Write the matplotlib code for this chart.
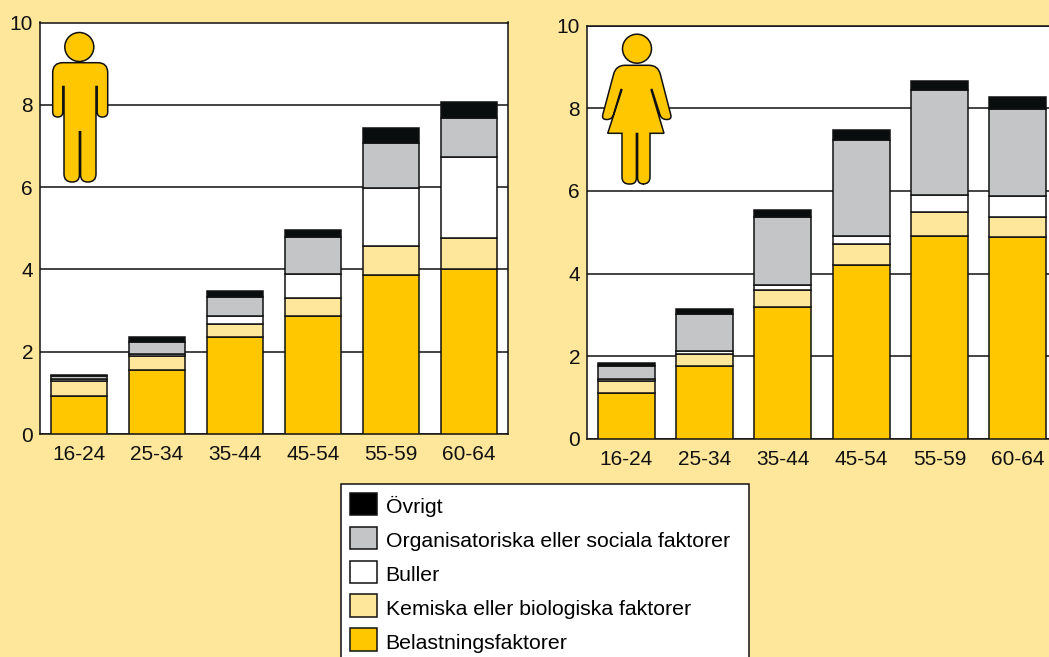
import matplotlib
matplotlib.use("Agg")
import matplotlib.pyplot as plt
import numpy as np
from matplotlib.patches import Circle, PathPatch, Patch
from matplotlib.path import Path

plt.rcParams["font.family"] = ["Liberation Sans", "DejaVu Sans"]

AGES = ["16-24", "25-34", "35-44", "45-54", "55-59", "60-64"]
LABELS = ["Belastningsfaktorer", "Kemiska eller biologiska faktorer", "Buller",
          "Organisatoriska eller sociala faktorer", "Övrigt"]

# cumulative tops, bottom segment first
MEN_BELASTNING = [0.93, 1.56, 2.36, 2.87, 3.86, 4.00]
MEN_KEMISKA = [1.29, 1.89, 2.68, 3.30, 4.56, 4.76]
MEN_BULLER = [1.33, 1.94, 2.86, 3.89, 5.97, 6.73]
MEN_ORG = [1.41, 2.23, 3.33, 4.78, 7.07, 7.69]
MEN_OVRIGT = [1.44, 2.36, 3.48, 4.95, 7.43, 8.08]

WOMEN_BELASTNING = [1.11, 1.76, 3.20, 4.22, 4.90, 4.89]
WOMEN_KEMISKA = [1.40, 2.05, 3.61, 4.72, 5.50, 5.36]
WOMEN_BULLER = [1.45, 2.13, 3.73, 4.90, 5.91, 5.87]
WOMEN_ORG = [1.77, 3.03, 5.37, 7.24, 8.45, 7.99]
WOMEN_OVRIGT = [1.84, 3.15, 5.54, 7.48, 8.65, 8.26]

BG = "#FEE79B"
COLORS = ["#FFC700", BG, "#FFFFFF", "#C4C5C7", "#0A0D0E"]
W, H = 1049, 657


def rounded(points):
    """Closed path through (x, y, corner radius) points."""
    verts, codes = [], []
    n = len(points)
    for i, (x, y, r) in enumerate(points):
        p = np.array([x, y], float)
        if r == 0:
            verts.append(p)
            codes.append(Path.LINETO)
            continue
        prev = np.array(points[i - 1][:2], float)
        nxt = np.array(points[(i + 1) % n][:2], float)
        a = p + (prev - p) / np.linalg.norm(prev - p) * r
        b = p + (nxt - p) / np.linalg.norm(nxt - p) * r
        verts += [a, p, b]
        codes += [Path.LINETO, Path.CURVE3, Path.CURVE3]
    codes[0] = Path.MOVETO
    verts.append(verts[0])
    codes.append(Path.CLOSEPOLY)
    return Path(verts, codes)


MAN = [(52.7, 62.7, 10), (107.7, 62.7, 10), (107.7, 117, 5), (97.2, 117, 5),
       (97.2, 86.5, 0), (96, 86.5, 0), (96, 182, 8), (80.6, 182, 7),
       (80.6, 131.7, 0), (79.4, 131.7, 0), (79.4, 182, 7), (64, 182, 8),
       (64, 86.5, 0), (62.8, 86.5, 0), (62.8, 117, 5), (52.7, 117, 5)]
WOMAN = [(616, 65.3, 9), (658, 65.3, 9), (672, 119.5, 5), (661.5, 119.5, 5),
         (652, 89.5, 0), (651, 89.5, 0), (664, 133.3, 0), (650, 133.3, 0),
         (650, 184, 7), (637.6, 184, 6), (637.6, 133.5, 0), (636.4, 133.5, 0),
         (636.4, 184, 6), (622, 184, 7), (622, 133.3, 0), (607.7, 133.3, 0),
         (622, 89.5, 0), (621, 89.5, 0), (612, 119.5, 5), (601.5, 119.5, 5)]


def panel(fig, box, series):
    left, top, right, bottom = box
    ax = fig.add_axes([left / W, 1 - bottom / H, (right - left) / W, (bottom - top) / H])
    x = np.arange(len(AGES))
    prev = np.zeros(len(AGES))
    for vals, color in zip(series, COLORS):
        vals = np.array(vals)
        ax.bar(x, vals - prev, 0.725, bottom=prev, color=color, edgecolor="#111111",
               linewidth=1.1, zorder=3)
        prev = vals
    ax.set_xlim(-0.5, 5.5)
    ax.set_ylim(0, 10)
    ax.set_yticks([0, 2, 4, 6, 8, 10])
    ax.set_xticks(x, AGES)
    ax.tick_params(length=0, labelsize=15, pad=8, colors="#111111")
    ax.tick_params(axis="y", pad=5)
    ax.grid(axis="y", color="#111111", lw=1.1, zorder=1)
    ax.set_axisbelow(True)
    for s in ax.spines.values():
        s.set_linewidth(1.1)
        s.set_color("#111111")
    return ax


fig = plt.figure(figsize=(W / 100, H / 100), dpi=100, facecolor=BG)
panel(fig, (40, 22.5, 508, 434),
      [MEN_BELASTNING, MEN_KEMISKA, MEN_BULLER, MEN_ORG, MEN_OVRIGT])
panel(fig, (587, 25.5, 1057, 439),
      [WOMEN_BELASTNING, WOMEN_KEMISKA, WOMEN_BULLER, WOMEN_ORG, WOMEN_OVRIGT])

# figure-wide overlay in image pixels for the two pictograms
over = fig.add_axes([0, 0, 1, 1], zorder=5)
over.set_xlim(0, W)
over.set_ylim(H, 0)
over.axis("off")
for shape, head in [(MAN, (79.3, 47)), (WOMAN, (637, 48.7))]:
    over.add_patch(PathPatch(rounded(shape), fc=COLORS[0], ec="#111111", lw=1.1))
    over.add_patch(Circle(head, 14.5, fc=COLORS[0], ec="#111111", lw=1.1))

handles = [Patch(fc=c if c != COLORS[4] else "#000000", ec="#111111", lw=1.1) for c in COLORS]
leg = fig.legend(handles[::-1], LABELS[::-1], loc="upper left", mode="expand",
                 bbox_to_anchor=(340.7 / W, 1 - 484 / H, 408.3 / W, 0), borderaxespad=0,
                 fontsize=15.35, frameon=True, fancybox=False, framealpha=1,
                 facecolor="white", edgecolor="#111111", borderpad=0.42,
                 handlelength=1.27, handleheight=1.25, handletextpad=0.42,
                 labelspacing=0.53)
leg.get_frame().set_linewidth(1.1)
leg.set_zorder(6)
for t in leg.get_texts():
    t.set_y(-2)  # labels sit a little under the swatch centre

fig.savefig("out.png", dpi=100, facecolor=BG)
